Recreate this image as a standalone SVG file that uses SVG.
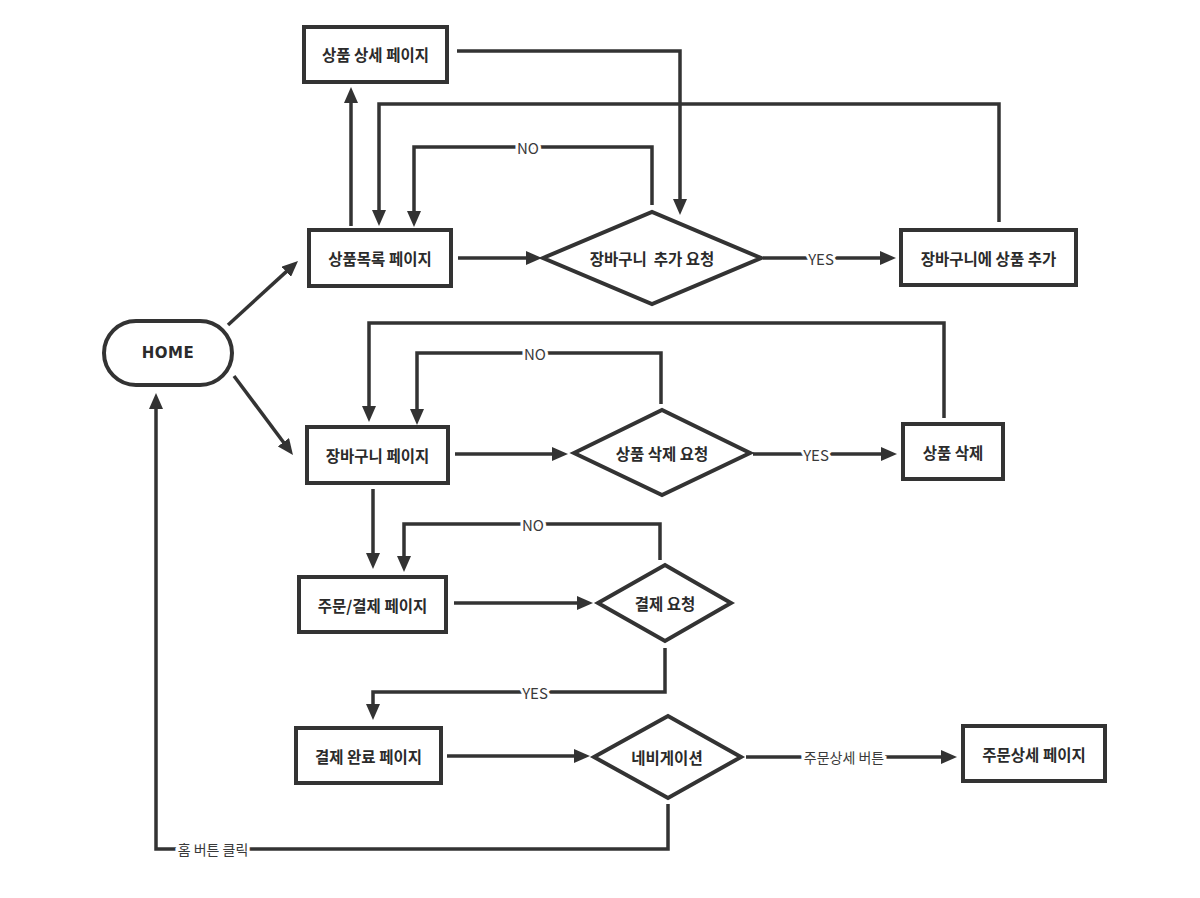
<svg xmlns="http://www.w3.org/2000/svg" width="1200" height="898" viewBox="0 0 1200 898">
<style>
.box{fill:#fff;stroke:#333;stroke-width:4}
.nt{font-family:"Noto Sans CJK KR","Noto Sans",sans-serif;font-size:15.5px;font-weight:700;fill:#2b2b2b;text-anchor:middle;dominant-baseline:central}
.home{font-family:"DejaVu Sans","Noto Sans",sans-serif;font-size:15px;font-weight:700;fill:#2b2b2b;text-anchor:middle;dominant-baseline:central;letter-spacing:0.5px}
.ln{fill:none;stroke:#333;stroke-width:3.5}
.arr{marker-end:url(#ah)}
.el{font-family:"Noto Sans CJK KR","Noto Sans",sans-serif;font-size:15px;fill:#3a3a3a;text-anchor:middle;dominant-baseline:central;stroke:#fff;stroke-width:6;paint-order:stroke}
</style>
<defs>
<marker id="ah" markerUnits="userSpaceOnUse" markerWidth="16" markerHeight="14" refX="2" refY="7" orient="auto">
<path d="M0,0 L16,7 L0,14 z" fill="#333"/>
</marker>
</defs>
<rect width="1200" height="898" fill="#fff"/>
<g id="connectors">
<path class="ln arr" d="M228,325 L287.7,270.4"/>
<path class="ln arr" d="M234,376 L284.6,443.8"/>
<path class="ln arr" d="M351,226 L351,101"/>
<path class="ln arr" d="M457,51 L680,51 L680,201"/>
<path class="ln arr" d="M999,222 L999,104 L379,104 L379,212"/>
<path class="ln arr" d="M652,205 L652,147 L414,147 L414,213"/>
<path class="ln arr" d="M458,258 L528,258"/>
<path class="ln arr" d="M763,258 L882,258"/>
<path class="ln arr" d="M455,454 L554,454"/>
<path class="ln arr" d="M753,454 L883,454"/>
<path class="ln arr" d="M944,418 L944,323 L369,323 L369,408"/>
<path class="ln arr" d="M661,404 L661,353 L417,353 L417,411"/>
<path class="ln arr" d="M373,489 L373,555"/>
<path class="ln arr" d="M660,560 L660,524 L404,524 L404,558"/>
<path class="ln arr" d="M454,603 L579,603"/>
<path class="ln arr" d="M665,648 L665,692 L373,692 L373,706"/>
<path class="ln arr" d="M447,756 L576,756"/>
<path class="ln arr" d="M746,757 L943,757"/>
<path class="ln arr" d="M668,804 L668,849 L156,849 L156,407"/>
<text class="el" x="528" y="147">NO</text>
<text class="el" x="821" y="258">YES</text>
<text class="el" x="535" y="353">NO</text>
<text class="el" x="816" y="454">YES</text>
<text class="el" x="533" y="524">NO</text>
<text class="el" x="535" y="692">YES</text>
<text class="el" x="844" y="757" style="font-size:14px">주문상세 버튼</text>
<text class="el" x="213" y="849" style="font-size:14px">홈 버튼 클릭</text>
</g>
<g id="home">
<rect class="box" x="104" y="321" width="128" height="64" rx="32"/>
<text class="home" x="168" y="353">HOME</text>
</g>
<g id="product-detail">
<rect class="box" x="304" y="27" width="143" height="55"/>
<text class="nt" x="375.5" y="54">상품 상세 페이지</text>
</g>
<g id="product-list">
<rect class="box" x="309" y="230" width="142" height="56"/>
<text class="nt" x="380" y="258">상품목록 페이지</text>
</g>
<g id="cart-add-request">
<polygon class="box" points="543,258 652,212 761,258 652,304"/>
<text class="nt" x="652" y="258" xml:space="preserve">장바구니  추가 요청</text>
</g>
<g id="cart-add">
<rect class="box" x="901" y="230" width="175" height="55"/>
<text class="nt" x="988.5" y="257.5">장바구니에 상품 추가</text>
</g>
<g id="cart-page">
<rect class="box" x="307" y="427" width="141" height="56"/>
<text class="nt" x="377.5" y="455">장바구니 페이지</text>
</g>
<g id="delete-request">
<polygon class="box" points="574,453 662,410 750,453 662,495"/>
<text class="nt" x="662" y="453">상품 삭제 요청</text>
</g>
<g id="delete">
<rect class="box" x="903" y="424" width="100" height="55"/>
<text class="nt" x="953" y="451.5">상품 삭제</text>
</g>
<g id="order-page">
<rect class="box" x="299" y="577" width="147" height="55"/>
<text class="nt" x="372.5" y="604.5">주문/결제 페이지</text>
</g>
<g id="pay-request">
<polygon class="box" points="598,603 665,565 731,603 665,641"/>
<text class="nt" x="665" y="603">결제 요청</text>
</g>
<g id="pay-done">
<rect class="box" x="296" y="728" width="145" height="55"/>
<text class="nt" x="368.5" y="755.5">결제 완료 페이지</text>
</g>
<g id="navigation">
<polygon class="box" points="594,757 668,716 741,757 668,798"/>
<text class="nt" x="667" y="757">네비게이션</text>
</g>
<g id="order-detail">
<rect class="box" x="963" y="726" width="142" height="55"/>
<text class="nt" x="1034" y="753.5">주문상세 페이지</text>
</g>
</svg>
